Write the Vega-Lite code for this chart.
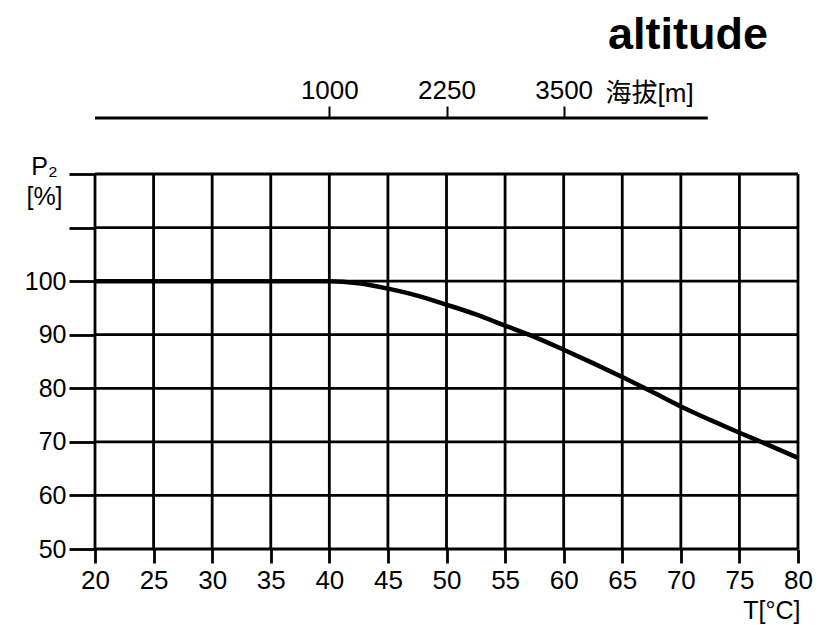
{
  "$schema": "https://vega.github.io/schema/vega-lite/v6.json",
  "width": 703,
  "height": 431,
  "autosize": {"type": "none"},
  "padding": {"left": 95, "top": 118, "right": 21, "bottom": 76},
  "background": "white",
  "view": {"stroke": null},
  "title": {
    "text": "altitude",
    "anchor": "end",
    "frame": "group",
    "font": "Liberation Sans",
    "fontSize": 45,
    "fontWeight": "bold",
    "color": "black",
    "baseline": "alphabetic",
    "dx": -30,
    "offset": -17
  },
  "datasets": {
    "curve": [
      {"T": 20, "P": 100}, {"T": 40, "P": 100}, {"T": 42.5, "P": 99.6},
      {"T": 45, "P": 98.6}, {"T": 47.5, "P": 97.3}, {"T": 50, "P": 95.6},
      {"T": 52.5, "P": 93.8}, {"T": 55, "P": 91.7}, {"T": 57.5, "P": 89.6},
      {"T": 60, "P": 87.2}, {"T": 62.5, "P": 84.7}, {"T": 65, "P": 82.1},
      {"T": 67.5, "P": 79.4}, {"T": 70, "P": 76.6}, {"T": 72.5, "P": 74.1},
      {"T": 75, "P": 71.7}, {"T": 77.5, "P": 69.4}, {"T": 80, "P": 67}
    ],
    "vgrid": [
      {"T": 20}, {"T": 25}, {"T": 30}, {"T": 35}, {"T": 40}, {"T": 45}, {"T": 50},
      {"T": 55}, {"T": 60}, {"T": 65}, {"T": 70}, {"T": 75}, {"T": 80}
    ],
    "hgrid": [
      {"P": 50}, {"P": 60}, {"P": 70}, {"P": 80}, {"P": 90}, {"P": 100}, {"P": 110}, {"P": 120}
    ],
    "altline": [{"from": 20, "to": 72.3, "level": 130.45}]
  },
  "layer": [
    {
      "data": {"name": "hgrid"},
      "mark": {"type": "rule", "color": "black", "strokeWidth": 2.8},
      "encoding": {
        "y": {
          "field": "P", "type": "quantitative",
          "scale": {"domain": [50, 130.45], "nice": false, "zero": false},
          "axis": {
            "orient": "left",
            "values": [50, 60, 70, 80, 90, 100, 110, 120],
            "labelExpr": "datum.value <= 100 ? datum.label : ''",
            "domain": false, "grid": false, "labelFlush": false,
            "tickSize": 26, "tickWidth": 2.8, "tickColor": "black",
            "labelFont": "Liberation Sans", "labelFontSize": 25, "labelColor": "black",
            "labelPadding": 3,
            "title": ["P₂", "[%]"],
            "titleFont": "Liberation Sans", "titleFontSize": 25, "titleFontWeight": "normal",
            "titleColor": "black", "titleAngle": 0,
            "titleAlign": "center", "titleBaseline": "top",
            "titleLineHeight": 30,
            "titleX": -51, "titleY": 36
          }
        },
        "x": {"datum": 20, "type": "quantitative", "axis": null},
        "x2": {"datum": 80}
      }
    },
    {
      "data": {"name": "vgrid"},
      "mark": {"type": "rule", "color": "black", "strokeWidth": 2.8},
      "encoding": {
        "x": {
          "field": "T", "type": "quantitative",
          "scale": {"domain": [20, 80], "nice": false, "zero": false},
          "axis": {
            "orient": "bottom",
            "values": [20, 25, 30, 35, 40, 45, 50, 55, 60, 65, 70, 75, 80],
            "domain": false, "grid": false, "labelFlush": false,
            "tickSize": 14, "tickWidth": 2.8, "tickColor": "black",
            "labelFont": "Liberation Sans", "labelFontSize": 26, "labelColor": "black",
            "labelPadding": 4,
            "title": "T[°C]",
            "titleFont": "Liberation Sans", "titleFontSize": 25, "titleFontWeight": "normal",
            "titleColor": "black",
            "titleAnchor": "end", "titleAlign": "right", "titleBaseline": "alphabetic",
            "titleX": 705, "titleY": 69
          }
        },
        "y": {"datum": 50, "type": "quantitative"},
        "y2": {"datum": 120}
      }
    },
    {
      "data": {"name": "altline"},
      "mark": {"type": "rule", "color": "black", "strokeWidth": 2.8},
      "encoding": {
        "x": {
          "field": "from", "type": "quantitative",
          "axis": {
            "orient": "top",
            "values": [40, 50, 60],
            "labelExpr": "datum.value == 40 ? '1000' : datum.value == 50 ? '2250' : '3500'",
            "domain": false, "grid": false, "labelFlush": false,
            "tickSize": 12, "tickWidth": 2, "tickColor": "black",
            "labelFont": "Liberation Sans", "labelFontSize": 26, "labelColor": "black",
            "labelPadding": 3,
            "title": "海拔[m]",
            "titleFont": "Liberation Sans, Noto Sans CJK SC", "titleFontSize": 26,
            "titleFontWeight": "normal", "titleColor": "black",
            "titleAnchor": "start", "titleAlign": "left", "titleBaseline": "alphabetic",
            "titleX": 510, "titleY": -17
          }
        },
        "x2": {"field": "to"},
        "y": {"field": "level", "type": "quantitative"}
      }
    },
    {
      "data": {"name": "curve"},
      "mark": {"type": "line", "color": "black", "strokeWidth": 4.5, "interpolate": "monotone"},
      "encoding": {
        "x": {"field": "T", "type": "quantitative", "axis": null},
        "y": {"field": "P", "type": "quantitative"}
      }
    }
  ]
}
